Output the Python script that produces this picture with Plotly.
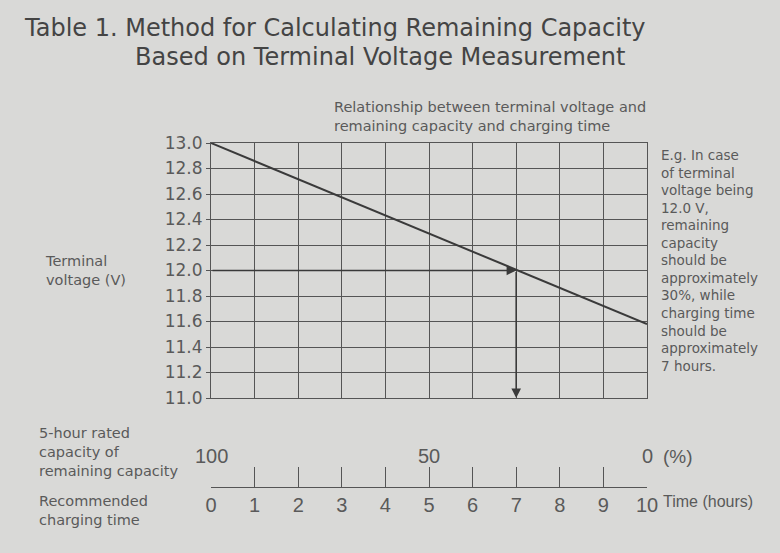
import plotly.graph_objects as go

# values
hours = [0, 1, 2, 3, 4, 5, 6, 7, 8, 9, 10]
voltage_ticks = [11.0, 11.2, 11.4, 11.6, 11.8, 12.0, 12.2, 12.4, 12.6, 12.8, 13.0]
line_hours = [0, 10]
line_voltage = [13.0, 11.58]
capacity_labels = ["100", "50", "0"]
capacity_hours = [0, 5, 10]
example_voltage = 12.0
example_hours = 7
note_lines = ["E.g. In case", "of terminal", "voltage being", "12.0 V,", "remaining",
              "capacity", "should be", "approximately", "30%, while",
              "charging time", "should be", "approximately", "7 hours."]

BG = "#d9d9d7"
INK = "#3a3a3a"
TXT = "#5a5a5a"

# plot area in pixels (grid top .. bottom scale line)
PL, PR, PT, PB = 211, 647, 143, 487
W, H = PR - PL, PB - PT


def px(x):
    return (x - PL) / W


def py(y):
    return (PB - y) / H


fig = go.Figure()

fig.add_trace(go.Scatter(x=line_hours, y=line_voltage, mode="lines",
                         line=dict(color=INK, width=2), hoverinfo="skip",
                         showlegend=False))
# carrier trace for the bottom time scale
fig.add_trace(go.Scatter(x=hours, y=[voltage_ticks[0]] * len(hours), xaxis="x2",
                         mode="markers", marker=dict(opacity=0), hoverinfo="skip",
                         showlegend=False))

ann = []
# title
ann.append(dict(text="Table 1. Method for Calculating Remaining Capacity",
                x=px(22), y=py(28), xanchor="left", yanchor="middle",
                font=dict(family="DejaVu Sans", size=24, color="#444")))
ann.append(dict(text="Based on Terminal Voltage Measurement",
                x=px(133), y=py(57), xanchor="left", yanchor="middle",
                font=dict(family="DejaVu Sans", size=24, color="#444")))
ann.append(dict(text="Relationship between terminal voltage and<br>remaining capacity and charging time",
                x=px(332), y=py(116), xanchor="left", yanchor="middle", align="left",
                font=dict(family="DejaVu Sans", size=14.5, color=TXT)))
ann.append(dict(text="<br>".join(note_lines),
                x=px(659), y=py(145), xanchor="left", yanchor="top", align="left",
                font=dict(family="DejaVu Sans", size=13.5, color=TXT)))
ann.append(dict(text="Terminal<br>voltage (V)",
                x=px(43), y=py(270), xanchor="left", yanchor="middle", align="left",
                font=dict(family="DejaVu Sans", size=14.5, color=TXT)))
ann.append(dict(text="5-hour rated<br>capacity of<br>remaining capacity",
                x=px(37), y=py(452), xanchor="left", yanchor="middle", align="left",
                font=dict(family="DejaVu Sans", size=14.5, color=TXT)))
ann.append(dict(text="Recommended<br>charging time",
                x=px(37), y=py(511), xanchor="left", yanchor="middle", align="left",
                font=dict(family="DejaVu Sans", size=14.5, color=TXT)))
for lab, h in zip(capacity_labels, capacity_hours):
    ann.append(dict(text=lab, x=h, xref="x", y=py(456), yref="paper",
                    xanchor="center", yanchor="middle",
                    font=dict(family="Liberation Sans", size=20, color=TXT)))
ann.append(dict(text="(%)", x=capacity_hours[-1], xref="x", xshift=14, y=py(456),
                yref="paper", xanchor="left", yanchor="middle",
                font=dict(family="Liberation Sans", size=19, color=TXT)))
ann.append(dict(text="Time (hours)", x=hours[-1], xref="x", xshift=14, y=py(501),
                yref="paper", xanchor="left", yanchor="middle",
                font=dict(family="Liberation Sans", size=16, color=TXT)))
for a in ann:
    a.setdefault("xref", "paper")
    a.setdefault("yref", "paper")
    a["showarrow"] = False

# arrows: 12.0 V across to the line, then down to the time axis
ann.append(dict(x=example_hours, y=example_voltage, ax=0, ay=example_voltage,
                xref="x", yref="y", axref="x", ayref="y", text="", showarrow=True,
                arrowhead=2, arrowsize=1.2, arrowwidth=1.6, arrowcolor=INK, standoff=0))
ann.append(dict(x=example_hours, y=voltage_ticks[0], ax=example_hours, ay=example_voltage,
                xref="x", yref="y", axref="x", ayref="y", text="", showarrow=True,
                arrowhead=2, arrowsize=1.2, arrowwidth=1.6, arrowcolor=INK, standoff=0))

fig.update_layout(
    width=780, height=553,
    margin=dict(l=PL, r=780 - PR, t=PT, b=553 - PB),
    paper_bgcolor=BG, plot_bgcolor=BG,
    annotations=ann,
    xaxis=dict(range=[0, 10], dtick=1, showgrid=True, gridcolor="#555", gridwidth=1,
               showticklabels=False, ticks="", zeroline=False,
               showline=True, linecolor="#555", linewidth=1, mirror=True, anchor="y"),
    yaxis=dict(range=[11, 13], domain=[py(398), 1], tickvals=voltage_ticks,
               ticktext=[f"{v:.1f}" for v in voltage_ticks],
               showgrid=True, gridcolor="#555", gridwidth=1, zeroline=False,
               ticks="outside", ticklen=4, tickcolor="#555",
               showline=True, linecolor="#555", linewidth=1, mirror=True,
               tickfont=dict(family="DejaVu Sans", size=17, color=TXT)),
    xaxis2=dict(range=[0, 10], overlaying="x", anchor="free", position=0, side="bottom",
                tickvals=hours, ticks="inside", ticklen=20, tickcolor="#555",
                showline=True, linecolor="#555", linewidth=1, showgrid=False,
                zeroline=False,
                tickfont=dict(family="Liberation Sans", size=20, color=TXT)),
)

# drop the page's default body margin so the figure sits at the window corner
fig.write_html("out.html", config={"displayModeBar": False},
               post_script="document.body.style.margin='0';"
                           "document.body.style.background='" + BG + "';")
